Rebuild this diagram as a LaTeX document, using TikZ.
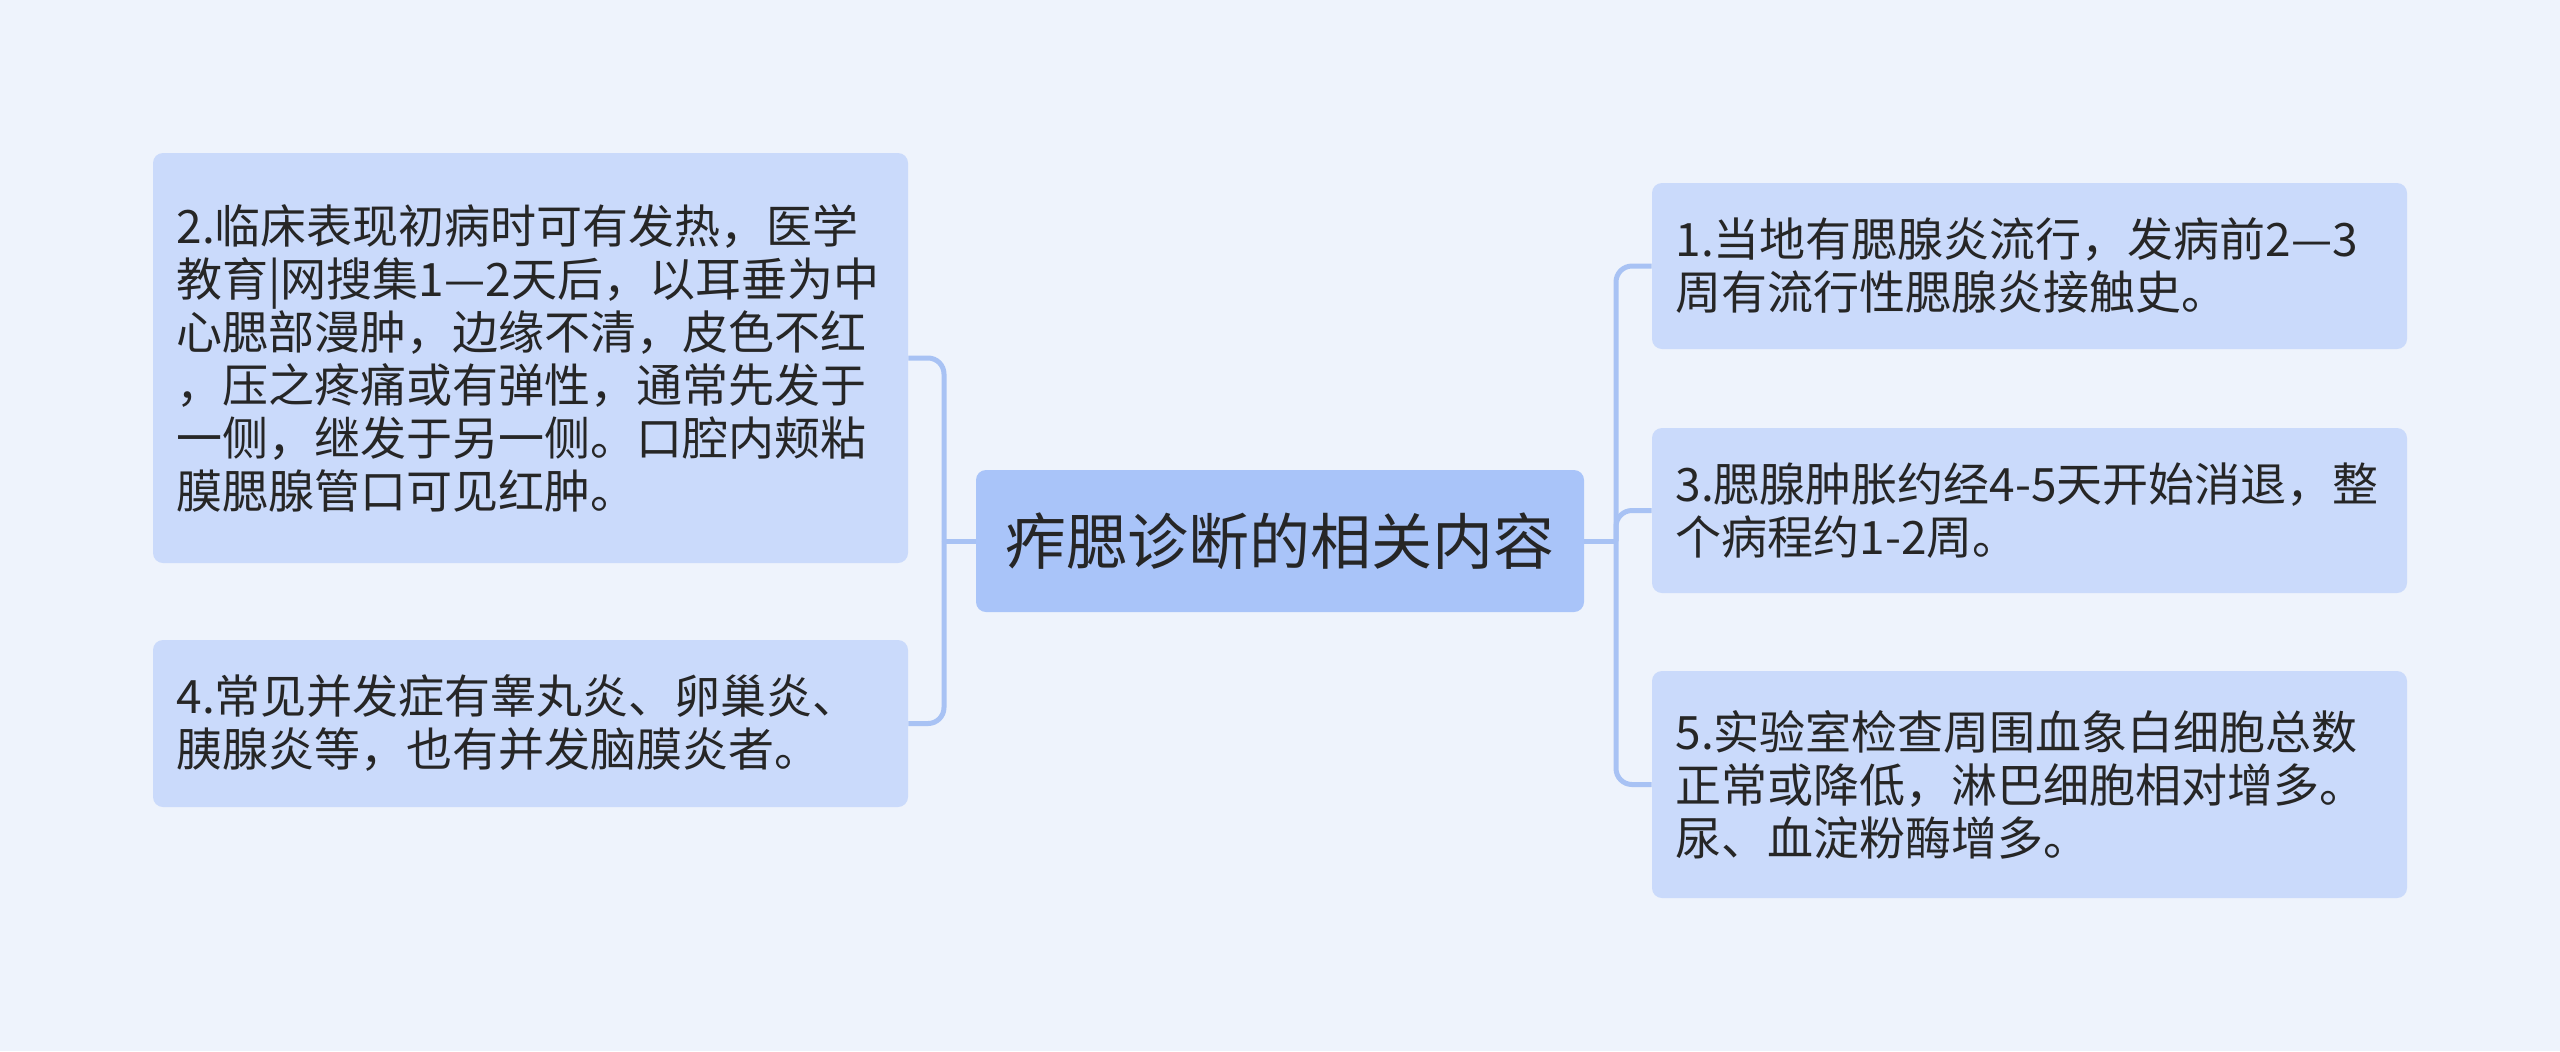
\documentclass[tikz,border=0pt]{standalone}
\usepackage{fontspec}
\newfontfamily\cjk{Noto Sans CJK SC}
\definecolor{bgc}{HTML}{EEF3FC}
\definecolor{rootc}{HTML}{A9C4F9}
\definecolor{childc}{HTML}{CADAFB}
\definecolor{linec}{HTML}{A8C2F4}
\definecolor{txtc}{HTML}{262626}
\tikzset{
  rootbox/.style={fill=rootc, rounded corners=5pt, minimum width=304pt, minimum height=71pt, inner sep=0pt,
    font=\cjk\fontsize{30.5}{36}\selectfont, text=txtc},
  childbox/.style={fill=childc, rounded corners=5pt, text width=354pt, inner xsep=11.75pt, inner ysep=0pt,
    align=left, font=\cjk\fontsize{23}{26.5}\selectfont, text=txtc},
  conn/.style={draw=linec, line width=2.5pt, rounded corners=8pt},
}
\begin{document}
\begin{tikzpicture}[x=0.5pt, y=-0.5pt]
\fill[bgc] (0,0) rectangle (2560,1051);
\useasboundingbox (0,0) rectangle (2560,1051);
\node[rootbox] (c) at (1280,541) {痄腮诊断的相关内容};
\node[childbox, minimum height=205pt] (n2) at (530.5,358) {2.临床表现初病时可有发热，医学\\教育|网搜集1—2天后，以耳垂为中\\心腮部漫肿，边缘不清，皮色不红\\，压之疼痛或有弹性，通常先发于\\一侧，继发于另一侧。口腔内颊粘\\膜腮腺管口可见红肿。};
\node[childbox, minimum height=83.5pt] (n4) at (530.5,723.5) {4.常见并发症有睾丸炎、卵巢炎、\\胰腺炎等，也有并发脑膜炎者。};
\node[childbox, minimum height=83pt] (n1) at (2029.5,266) {1.当地有腮腺炎流行，发病前2—3\\周有流行性腮腺炎接触史。};
\node[childbox, minimum height=82.5pt] (n3) at (2029.5,510.5) {3.腮腺肿胀约经4-5天开始消退，整\\个病程约1-2周。};
\node[childbox, minimum height=113.5pt] (n5) at (2029.5,784.5) {5.实验室检查周围血象白细胞总数\\正常或降低，淋巴细胞相对增多。\\尿、血淀粉酶增多。};
\coordinate (tL) at (944,541);
\coordinate (tR) at (1616,541);
\draw[conn] (c.west) -- (tL);
\draw[conn] (tL) |- (n2.east);
\draw[conn] (tL) |- (n4.east);
\draw[conn] (c.east) -- (tR);
\draw[conn] (tR) |- (n1.west);
\draw[conn] (tR) |- (n3.west);
\draw[conn] (tR) |- (n5.west);
\end{tikzpicture}
\end{document}
